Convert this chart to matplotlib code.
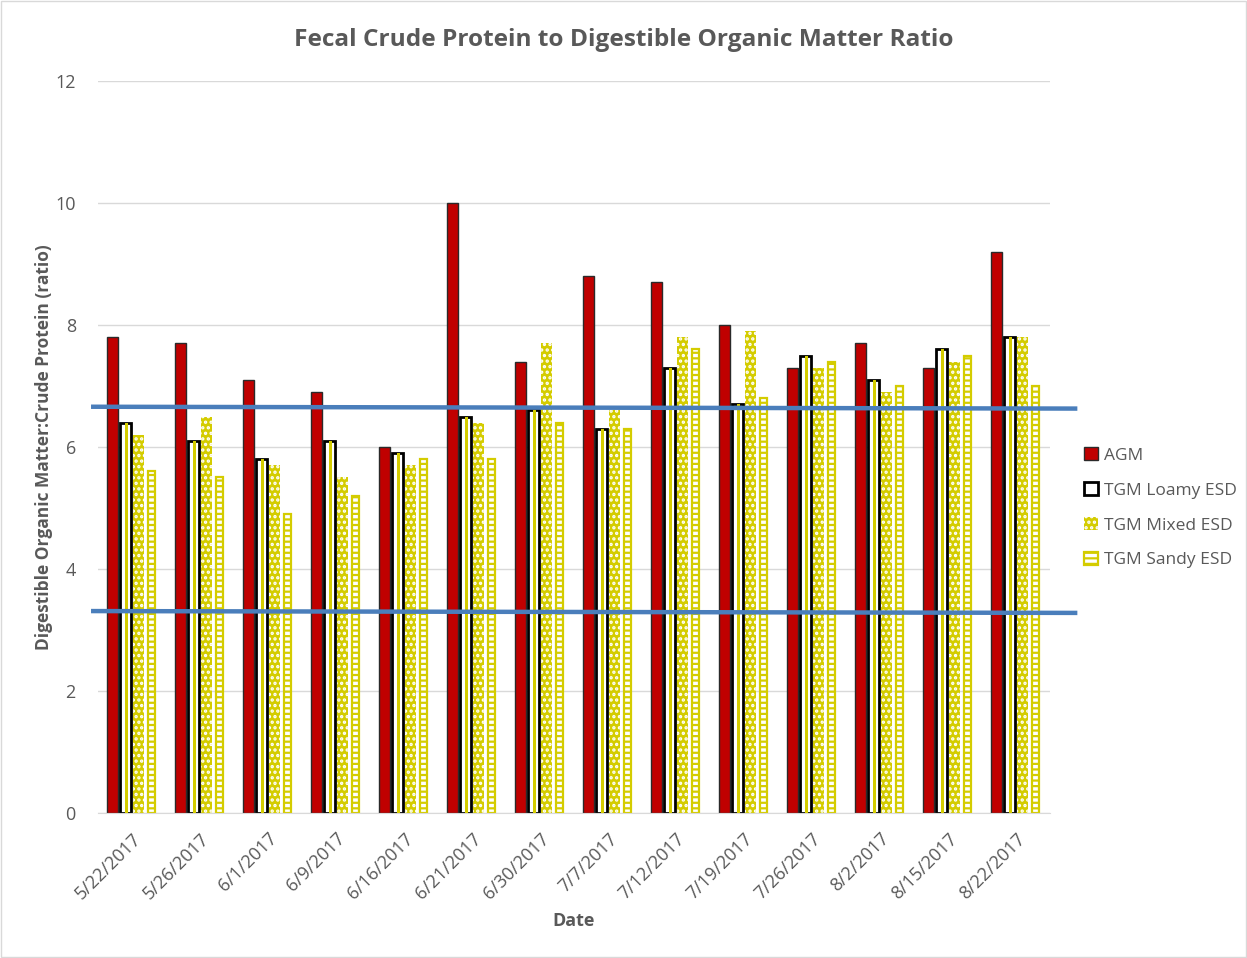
import matplotlib.pyplot as plt
import matplotlib.patches as mpatches
import numpy as np

plt.rcParams['font.family'] = ['Open Sans', 'DejaVu Sans']
plt.rcParams['hatch.linewidth'] = 1.6

# Data
dates = ['5/22/2017', '5/26/2017', '6/1/2017', '6/9/2017', '6/16/2017', '6/21/2017', '6/30/2017',
         '7/7/2017', '7/12/2017', '7/19/2017', '7/26/2017', '8/2/2017', '8/15/2017', '8/22/2017']
agm = [7.8, 7.7, 7.1, 6.9, 6.0, 10.0, 7.4, 8.8, 8.7, 8.0, 7.3, 7.7, 7.3, 9.2]
loamy = [6.4, 6.1, 5.8, 6.1, 5.9, 6.5, 6.6, 6.3, 7.3, 6.7, 7.5, 7.1, 7.6, 7.8]
mixed = [6.2, 6.5, 5.7, 5.5, 5.7, 6.4, 7.7, 6.6, 7.8, 7.9, 7.3, 6.9, 7.4, 7.8]
sandy = [5.6, 5.5, 4.9, 5.2, 5.8, 5.8, 6.4, 6.3, 7.6, 6.8, 7.4, 7.0, 7.5, 7.0]

# hand-drawn reference lines (left end, right end)
upper_line = [6.66, 6.63]
lower_line = [3.31, 3.28]

red = '#c00000'
yellow = '#d4cc00'
gray = '#595959'

fig = plt.figure(figsize=(12.47, 9.58), dpi=100)
ax = fig.add_axes([0.0786, 0.1514, 0.7634, 0.764])

x = np.arange(len(dates))
step = 0.19
w = 0.16

b1 = ax.bar(x - 1.5 * step, agm, w, color=red, edgecolor='#2a2a2a', linewidth=1.0, zorder=2)
b2 = ax.bar(x - 0.5 * step, loamy, w, color='white', edgecolor='black', linewidth=2.0, zorder=2)
ax.bar(x - 0.5 * step + 0.015, loamy, 0.04, color=yellow, linewidth=0, zorder=3)
b3 = ax.bar(x + 0.5 * step, mixed, w, color=yellow, edgecolor='white', linewidth=0, hatch='...', zorder=2)
b4 = ax.bar(x + 1.5 * step, sandy, w * 0.7, color='none', edgecolor=yellow, linewidth=1.6, hatch='---', zorder=2)

# blue threshold lines run slightly past the plot area
xl = [-0.57, 13.87]
ax.plot(xl, upper_line, color='#4a7ebb', linewidth=3.2, clip_on=False, zorder=4)
ax.plot(xl, lower_line, color='#4a7ebb', linewidth=3.2, clip_on=False, zorder=4)

ax.set_xlim(-0.5, len(dates) - 0.5)
ax.set_ylim(0, 12)
ax.set_yticks(range(0, 13, 2))
ax.set_xticks(x)
ax.set_xticklabels(dates, rotation=45, ha='right', rotation_mode='anchor')
ax.tick_params(length=0, labelsize=13, labelcolor=gray)
ax.tick_params(axis='y', pad=16)
ax.tick_params(axis='x', pad=12)
ax.grid(axis='y', color='#d9d9d9', linewidth=1.0, zorder=0)
ax.set_axisbelow(True)
for s in ['top', 'right', 'left']:
    ax.spines[s].set_visible(False)
ax.spines['bottom'].set_color('#d9d9d9')

ax.set_ylabel('Digestible Organic Matter:Crude Protein (ratio)', fontsize=12.5,
              fontweight='bold', color=gray, labelpad=2)
ax.set_xlabel('Date', fontsize=13, fontweight='bold', color=gray, labelpad=7)
fig.text(0.5, 0.958, 'Fecal Crude Protein to Digestible Organic Matter Ratio',
         ha='center', va='center', fontsize=17.6, fontweight='bold', color=gray)

handles = [b1, b2, b3, b4]
labels = ['AGM', 'TGM Loamy ESD', 'TGM Mixed ESD', 'TGM Sandy ESD']
fig.legend(handles, labels, loc='center left', bbox_to_anchor=(0.857, 0.47), frameon=False,
           fontsize=12.5, labelcolor=gray, handlelength=0.8, handleheight=0.8,
           handletextpad=0.35, labelspacing=1.05)

fig.patches.append(mpatches.Rectangle((0.001, 0.001), 0.998, 0.998, transform=fig.transFigure,
                                      fill=False, edgecolor='#d9d9d9', linewidth=1))

plt.savefig('out.png')
